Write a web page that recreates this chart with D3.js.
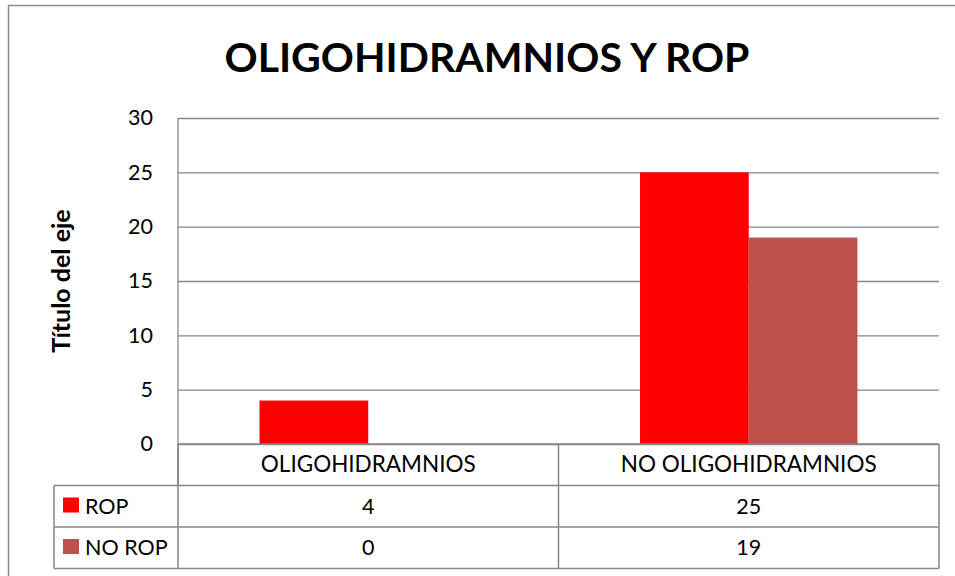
<!DOCTYPE html>
<meta charset="utf-8">
<html>
<head>
<script src="https://d3js.org/d3.v7.min.js"></script>
<style>
  body { margin: 0; background: #fff; }
  text { font-family: "Lato", "Open Sans", sans-serif; fill: #000; }
</style>
</head>
<body>
<div id="my_dataviz"></div>
<script>

// data
var categories = ["OLIGOHIDRAMNIOS", "NO OLIGOHIDRAMNIOS"];
var seriesNames = ["ROP", "NO ROP"];
var ropValues = [4, 25];
var noRopValues = [0, 19];
var yTicks = [0, 5, 10, 15, 20, 25, 30];
var seriesColors = ["#ff0000", "#c0504d"];

var seriesValues = [ropValues, noRopValues];

// plot area
var margin = {top: 118, left: 178},
    width = 939 - 178,
    height = 444 - 118,
    rowH = 41.5;

var svg = d3.select("#my_dataviz")
  .append("svg")
    .attr("width", 955)
    .attr("height", 576);

// outer chart border
svg.append("rect")
  .attr("x", 8.5).attr("y", 5.5)
  .attr("width", 960).attr("height", 600)
  .attr("fill", "none")
  .attr("stroke", "#8c8c8c")
  .attr("stroke-width", 1.5);

// title
svg.append("text")
  .attr("x", 487).attr("y", 72)
  .attr("text-anchor", "middle")
  .style("font-size", "41px")
  .style("font-weight", "bold")
  .text("OLIGOHIDRAMNIOS Y ROP");

var g = svg.append("g")
  .attr("transform", "translate(" + margin.left + "," + margin.top + ")");

var x = d3.scaleBand()
  .domain(categories)
  .range([0, width]);

var xInner = d3.scaleBand()
  .domain(seriesNames)
  .range([0, x.bandwidth()])
  .paddingOuter(0.75)
  .paddingInner(0);

var y = d3.scaleLinear()
  .domain([0, 30])
  .range([height, 0]);

// gridlines + tick labels
var yAxis = g.append("g")
  .call(d3.axisLeft(y).tickValues(yTicks).tickSize(-width).tickPadding(25));
yAxis.select(".domain").remove();
yAxis.selectAll(".tick line")
  .attr("stroke", "#868686")
  .attr("stroke-width", 1.3);
yAxis.selectAll(".tick text")
  .style("font-size", "21.5px")
  .style("font-family", "Lato, 'Open Sans', sans-serif")
  .attr("fill", "#000");

// left axis line
g.append("line")
  .attr("x1", 0).attr("x2", 0)
  .attr("y1", 0).attr("y2", height + rowH)
  .attr("stroke", "#868686").attr("stroke-width", 1.3);

// y title
svg.append("text")
  .attr("transform", "translate(70,281) rotate(-90)")
  .attr("text-anchor", "middle")
  .style("font-size", "25px")
  .style("font-weight", "bold")
  .text("Título del eje");

// bars
var groups = g.selectAll(".grp")
  .data(categories)
  .enter()
  .append("g")
    .attr("transform", function(d) { return "translate(" + x(d) + ",0)"; });

groups.selectAll("rect")
  .data(function(d, i) {
    return seriesNames.map(function(s, j) { return {series: s, value: seriesValues[j][i], color: seriesColors[j]}; });
  })
  .enter()
  .append("rect")
    .attr("x", function(d) { return xInner(d.series); })
    .attr("y", function(d) { return y(d.value); })
    .attr("width", xInner.bandwidth())
    .attr("height", function(d) { return height - y(d.value); })
    .attr("fill", function(d) { return d.color; });

// data table
var tableLeft = 54 - margin.left;
var gridColor = "#868686";

function hline(y0, x0, x1) {
  g.append("line")
    .attr("x1", x0).attr("x2", x1)
    .attr("y1", y0).attr("y2", y0)
    .attr("stroke", gridColor).attr("stroke-width", 1.5);
}
function vline(x0, y0, y1) {
  g.append("line")
    .attr("x1", x0).attr("x2", x0)
    .attr("y1", y0).attr("y2", y1)
    .attr("stroke", gridColor).attr("stroke-width", 1.5);
}

hline(height, 0, width);
hline(height + rowH, tableLeft, width);
hline(height + rowH * 2, tableLeft, width);
hline(height + rowH * 3, tableLeft, width);
vline(tableLeft, height + rowH, height + rowH * 3);
vline(0, height, height + rowH * 3);
vline(width / 2, height, height + rowH * 3);
vline(width, height, height + rowH * 3);

// category labels
g.selectAll(".catLabel")
  .data(categories)
  .enter()
  .append("text")
    .attr("x", function(d) { return x(d) + x.bandwidth() / 2; })
    .attr("y", height + rowH / 2 + 7.5)
    .attr("text-anchor", "middle")
    .style("font-size", "22.5px")
    .text(function(d) { return d; });

// series rows
seriesNames.forEach(function(s, j) {
  var rowY = height + rowH * (j + 1);
  g.append("rect")
    .attr("x", 63 - margin.left).attr("y", rowY + 12)
    .attr("width", 16).attr("height", 15)
    .attr("fill", seriesColors[j]);
  g.append("text")
    .attr("x", 85 - margin.left).attr("y", rowY + rowH / 2 + 7.5)
    .style("font-size", "21.5px")
    .text(s);
  categories.forEach(function(c, i) {
    g.append("text")
      .attr("x", x(c) + x.bandwidth() / 2)
      .attr("y", rowY + rowH / 2 + 7.5)
      .attr("text-anchor", "middle")
      .style("font-size", "21.5px")
      .text(seriesValues[j][i]);
  });
});

</script>
</body>
</html>
